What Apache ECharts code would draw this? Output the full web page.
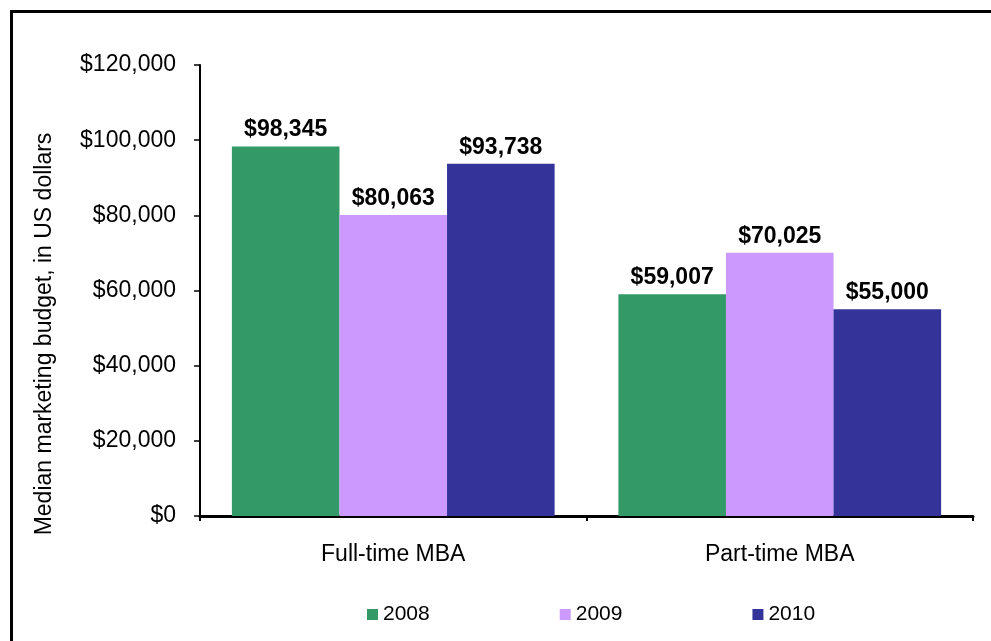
<!DOCTYPE html>
<html>
<head>
<meta charset="utf-8">
<script src="https://cdn.jsdelivr.net/npm/echarts@6/dist/echarts.min.js"></script>
<style>
  html, body { margin: 0; padding: 0; background: #fff; }
  #chart { width: 991px; height: 641px; }
</style>
</head>
<body>
<div id="chart"></div>
<script>
// Program categories and median budget per year
const categories = ['Full-time MBA', 'Part-time MBA'];
const years = ['2008', '2009', '2010'];
const values2008 = [98345, 59007];
const values2009 = [80063, 70025];
const values2010 = [93738, 55000];
const yTicks = [0, 20000, 40000, 60000, 80000, 100000, 120000];
const yAxisTitle = 'Median marketing budget, in US dollars';

const colors = ['#339966', '#CC99FF', '#333399'];
const FONT = 'Liberation Sans, Arial, sans-serif';

const money = v => '$' + Math.round(v).toLocaleString('en-US');

const chart = echarts.init(document.getElementById('chart'), null, { renderer: 'canvas' });

const seriesData = [values2008, values2009, values2010];

chart.setOption({
  animation: false,
  backgroundColor: '#ffffff',
  color: colors,
  textStyle: { fontFamily: FONT },
  grid: { left: 200, right: 18, top: 65, bottom: 125, containLabel: false },
  legend: {
    data: years,
    left: 362,
    top: 599,
    itemWidth: 11,
    itemHeight: 11,
    itemGap: 130,
    icon: 'rect',
    textStyle: { fontFamily: FONT, fontSize: 21, color: '#000' }
  },
  xAxis: {
    type: 'category',
    data: categories,
    axisLine: { lineStyle: { color: '#000', width: 3 } },
    axisTick: { show: true, length: 5, lineStyle: { color: '#000', width: 2 } },
    axisLabel: { fontFamily: FONT, fontSize: 23, color: '#000', margin: 27 },
    splitLine: { show: false }
  },
  yAxis: {
    type: 'value',
    min: yTicks[0],
    max: yTicks[yTicks.length - 1],
    interval: yTicks[1] - yTicks[0],
    axisLine: { show: true, lineStyle: { color: '#000', width: 2 } },
    axisTick: { show: true, length: 6, lineStyle: { color: '#000', width: 1.5 } },
    axisLabel: { fontFamily: FONT, fontSize: 23, color: '#000', margin: 24, formatter: money },
    splitLine: { show: false }
  },
  series: years.map((y, i) => ({
    name: y,
    type: 'bar',
    data: seriesData[i],
    barGap: '0%',
    barCategoryGap: '16.5%',
    itemStyle: { color: colors[i] },
    label: {
      show: true,
      position: 'top',
      distance: 5,
      fontFamily: FONT,
      fontSize: 23,
      fontWeight: 'bold',
      color: '#000',
      formatter: p => money(p.value)
    }
  })),
  graphic: [
    {
      type: 'rect',
      shape: { x: 11.5, y: 11.5, width: 1100, height: 800 },
      style: { fill: 'none', stroke: '#000', lineWidth: 3 },
      silent: true
    },
    {
      type: 'text',
      x: 45,
      y: 334,
      rotation: Math.PI / 2,
      style: {
        text: yAxisTitle,
        fontFamily: FONT,
        fontSize: 23,
        fill: '#000',
        textAlign: 'center',
        textVerticalAlign: 'middle'
      }
    }
  ]
});
</script>
</body>
</html>
